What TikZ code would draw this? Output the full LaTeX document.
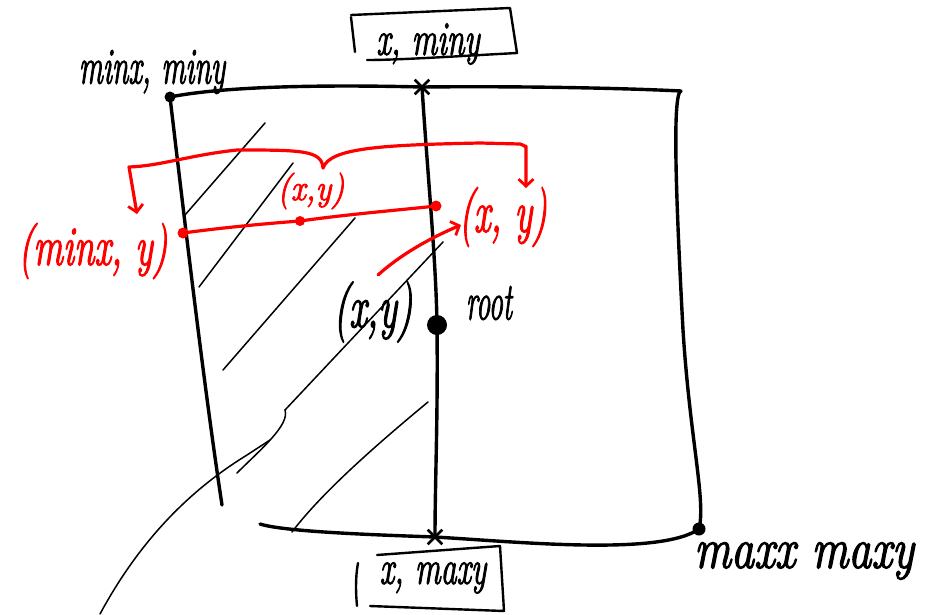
\documentclass[tikz,border=0pt]{standalone}
\usepackage{fontspec}
\usepackage{graphicx}
\usetikzlibrary{arrows.meta,shapes.misc}
% heavier pen-like letters
\newfontfamily\handfont{Latin Modern Roman}[FakeBold=2.5]
% tall, narrow letters in the manner of quick handwriting
\newcommand\handtext[2]{\scalebox{1}[#1]{#2}}
\begin{document}
\begin{tikzpicture}[x=1pt,y=-1pt,
  ink/.style={line width=3.4pt,line cap=round,line join=round},
  hatch/.style={line width=1.5pt,line cap=round},
  redink/.style={red,line width=3.2pt,line cap=round,line join=round},
  dot/.style={circle,fill,inner sep=0pt,minimum size=#1},
  xmark/.style={cross out,draw,line width=2.6pt,minimum size=12pt,inner sep=0pt},
  lbl/.style={inner sep=0pt,font=\fontsize{#1}{#1}\handfont\itshape},
  barb/.style={-{Straight Barb[length=7pt,width=15pt,line width=2.8pt]}}]
\useasboundingbox (0,0) rectangle (925,614);

% corners, marks and the root
\node[dot=11pt] (tl)   at (170,97)  {};
\node[dot=13pt] (br)   at (699,529) {};
\coordinate     (tr)   at (681,91);
\coordinate     (bl)   at (260,524);
\coordinate     (lb)   at (222,505);
\node[xmark]    (topx) at (422,87)  {};
\node[xmark]    (botx) at (435,537) {};
\node[dot=20pt] (root) at (437,325) {};

% outer rectangle, drawn freehand
\draw[ink] (tl.center) .. controls (215,88) and (300,84) .. (topx.center)
           .. controls (520,86) and (620,88) .. (tr);
\draw[ink] (tr) .. controls (672,93) and (676,200) .. (683,330)
           .. controls (690,440) and (706,500) .. (br.center);
\draw[ink] (tl.center) .. controls (188,250) and (206,400) .. (lb);
\draw[ink] (bl) .. controls (285,532) and (380,535) .. (botx.center)
           .. controls (520,542) and (660,556) .. (br.center);

% middle split line through the root
\draw[ink] (topx.center) .. controls (428,180) and (436,260) .. (root.center);
\draw[ink] (root.center) .. controls (438,420) and (435,480) .. (botx.center);

% hatching of the left part
\draw[hatch] (265,123) -- (185,215);
\draw[hatch] (293,163) -- (199,287);
\draw[hatch] (355,218) -- (223,370);
\draw[hatch] (443,242) -- (285,410) .. controls (290,425) and (260,450) .. (237,473);
\draw[hatch] (428,402) .. controls (370,450) and (320,495) .. (292,532);
\draw[hatch] (100,614) .. controls (140,540) and (190,490) .. (247,455) -- (270,440);

% labels of the corners
\node[lbl=30] (minxy) at (152,72)  {\handtext{1.7}{minx, miny}};
\node[lbl=46] (maxxy) at (804,561) {\handtext{1.25}{maxx maxy}};

% top box
\node[lbl=32] (topbox) at (428,44) {\handtext{1.5}{x, miny}};
\draw[ink,line width=2.4pt] (351,17) -- (355,52);
\draw[ink,line width=2.4pt] (351,15) -- (510,8) -- (517,53)
     .. controls (460,56) and (400,60) .. (367,60);

% bottom box
\node[lbl=32] (botbox) at (433,578) {\handtext{1.5}{x, maxy}};
\draw[ink,line width=2.4pt] (358,563) .. controls (355,580) and (356,595) .. (357,606);
\draw[ink,line width=2.4pt] (377,555) -- (500,546) -- (504,611) -- (370,606);

% root labels
\node[lbl=39] (xyb)  at (373,312) {\handtext{1.55}{(x,y)}};
\node[lbl=28] (rootlbl) at (489,303) {\handtext{1.9}{root}};

% red points on the scan line
\node[dot=11pt,red] (rl) at (183,233) {};
\node[dot=10pt,red] (rm) at (300,221) {};
\node[dot=11pt,red] (rr) at (436,206) {};
\draw[redink] (rl.center) .. controls (220,228) and (260,224) .. (rm.center)
              .. controls (350,214) and (400,210) .. (rr.center);

\node[lbl=37,red] (xyl) at (93,251)  {\handtext{1.5}{(minx, y)}};
\node[lbl=33,red] (xym) at (311,191) {\handtext{1.1}{(x,y)}};
\node[lbl=37,red] (xyr) at (503,217) {\handtext{1.6}{(x, y)}};

% brace splitting into both directions
\coordinate (bc) at (323,168);
\coordinate (bl1) at (129,167);
\coordinate (br1) at (526,146);
\coordinate (lt) at (137,214);
\coordinate (rt) at (526,188);
\draw[redink,barb] (bc) .. controls (322,150) and (300,150) .. (237,150)
      .. controls (190,155) and (160,166) .. (bl1) -- (lt);
\draw[redink,barb] (bc) .. controls (330,148) and (380,145) .. (480,143)
      -- (520,144) .. controls (526,145) and (526,150) .. (br1) -- (rt);

% the root point is sent to the right
\coordinate (rs) at (378,275);
\coordinate (re) at (461,225);
\draw[redink,barb] (rs) .. controls (400,255) and (430,238) .. (re);
\end{tikzpicture}
\end{document}
